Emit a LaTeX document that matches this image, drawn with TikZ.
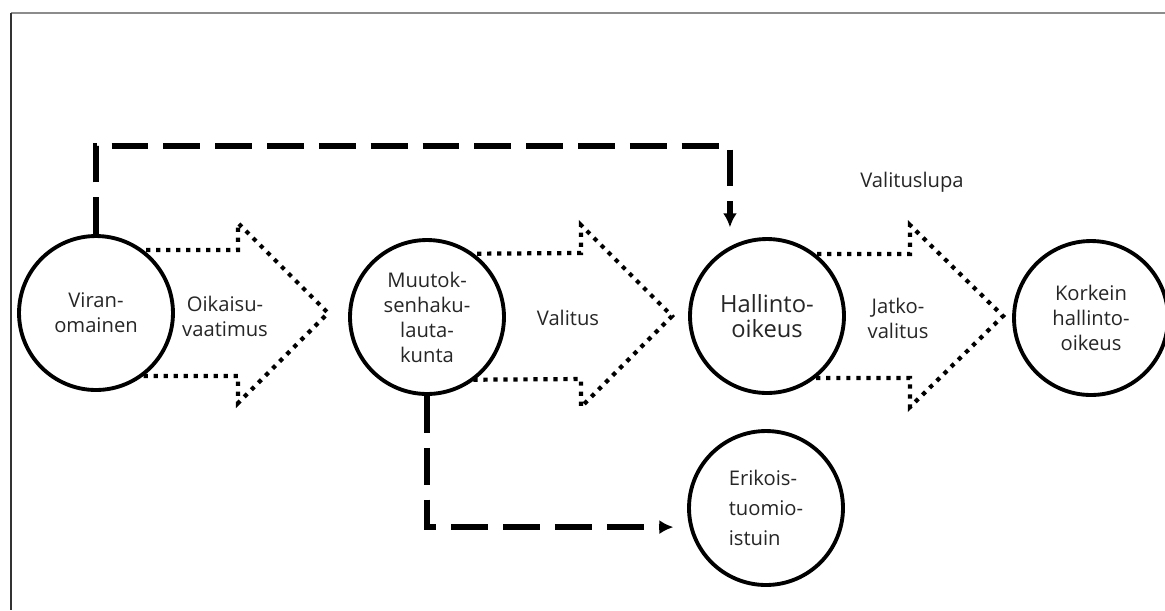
\documentclass[tikz,border=0pt]{standalone}
\usepackage{fontspec}
\setmainfont{Open Sans}
\usetikzlibrary{calc,backgrounds,arrows.meta}

\begin{document}
\begin{tikzpicture}
[
x=0.02cm, y=-0.02cm,
court/.style={circle, draw=black, line width=2.2pt, fill=white, minimum size=3.08cm, inner sep=0pt, align=center, text=black!85, font=\fontsize{11.5}{14.2}\selectfont},
flowlabel/.style={align=center, text=black!85, font=\fontsize{11.5}{14.2}\selectfont},
dotarrow/.style={line width=2.4pt, dash pattern=on 2.4pt off 3.3pt},
dashconn/.style={line width=3.2pt, dash pattern=on 21pt off 8.5pt, -{Latex[length=8pt,width=8pt]}},
]
\useasboundingbox (0,0) rectangle (1165,610);
%draw the frame
\draw[black!45, line width=1.6pt] (11,13) -- (1165,13);
\draw[black!80, line width=1.6pt] (11,13) -- (11,610);

%draw the courts
\node[court] (vir) at (96,313) {Viran-\\omainen};
\node[court] (muu) at (427,317) {Muutok-\\senhaku-\\lauta-\\kunta};
\node[court, font=\fontsize{13.5}{14.6}\selectfont] (hal) at (767,316) {Hallinto-\\oikeus};
\node[court] (kor) at (1091,318) {Korkein\\hallinto-\\oikeus};
\node[court, align=left, font=\fontsize{11.5}{17}\selectfont] (eri) at (766,508) {Erikois-\\tuomio-\\istuin};

%draw the dotted arrows
\coordinate (tip1) at (328,313);
\coordinate (tip2) at (672,316);
\coordinate (tip3) at (1003,316);
\begin{scope}[on background layer]
\draw[dotarrow] ($(vir.center)+(0,-63)$) -- ($(tip1)+(-90,-63)$) -- ($(tip1)+(-90,-90)$) -- (tip1) -- ($(tip1)+(-90,90)$) -- ($(tip1)+(-90,63)$) -- ($(vir.center)+(0,63)$);
\draw[dotarrow] ($(muu.center)+(0,-63)$) -- ($(tip2)+(-91,-63)$) -- ($(tip2)+(-91,-91)$) -- (tip2) -- ($(tip2)+(-91,91)$) -- ($(tip2)+(-91,63)$) -- ($(muu.center)+(0,63)$);
\draw[dotarrow] ($(hal.center)+(0,-62)$) -- ($(tip3)+(-93,-62)$) -- ($(tip3)+(-93,-91)$) -- (tip3) -- ($(tip3)+(-93,91)$) -- ($(tip3)+(-93,62)$) -- ($(hal.center)+(0,62)$);
\end{scope}
\node[flowlabel] (oik) at (225,316) {Oikaisu-\\vaatimus};
\node[flowlabel] (val) at (568,318) {Valitus};
\node[flowlabel] (jat) at (898,318) {Jatko-\\valitus};
\node[flowlabel] (lupa) at (912,182) {Valituslupa};

%draw the dashed connectors
\coordinate (bend) at (0,146);
\draw[dashconn] (vir.north) -- (vir.north |- bend) -| ($(hal.118)+(0,-19)$);
\draw[dashconn] (muu.south) |- ($(eri.194)+(-16,0)$);
\end{tikzpicture}
\end{document}
